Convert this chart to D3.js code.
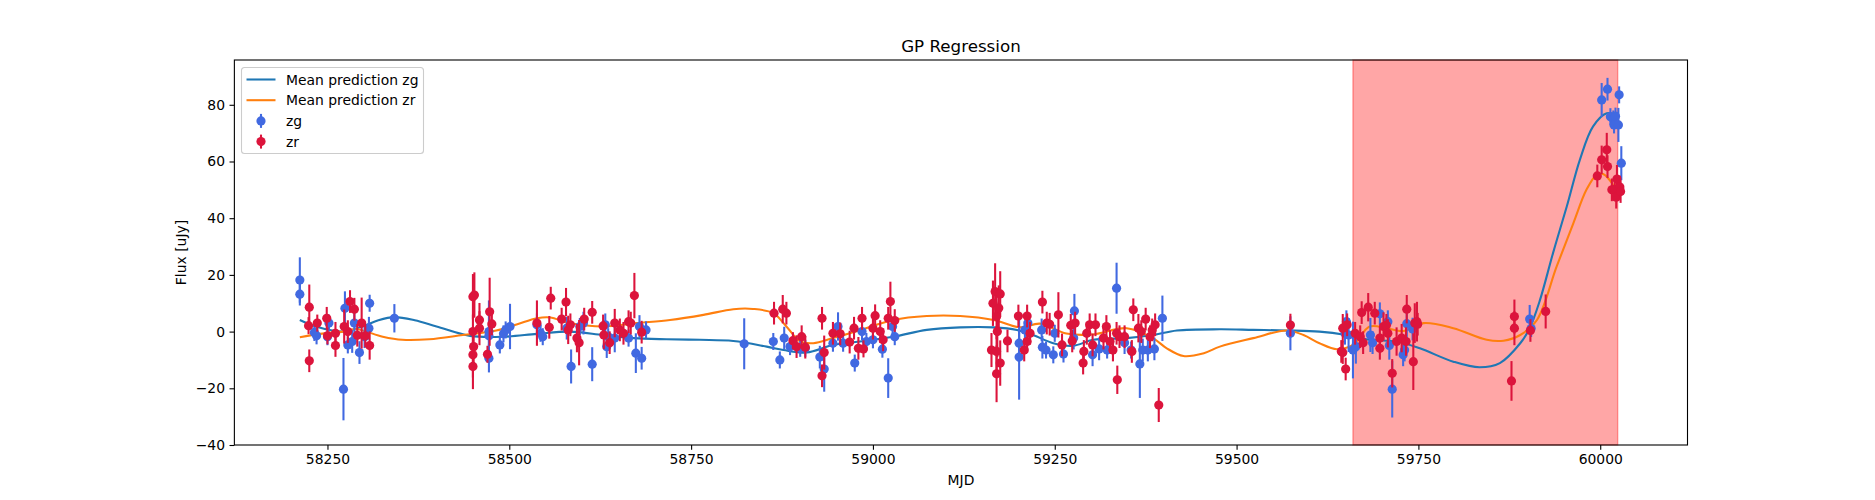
<!DOCTYPE html>
<html>
<head>
<meta charset="utf-8">
<script src="https://d3js.org/d3.v7.min.js"></script>
<style>
  body { margin: 0; background: #fff; }
  text { font-family: "DejaVu Sans", sans-serif; fill: #000; }
</style>
</head>
<body>
<script>
// observations: [mjd, flux, error]
const zgPoints = [
  [58212,18.2,8],[58212,13.2,4],[58232,-0.3,3],[58235,-1.5,3],[58250,-1.8,3],[58252,3,3],
  [58272,-20.3,11],[58274,8.2,6],[58278,-4.7,3],[58284,-3.5,4],[58287,3,4],[58294,-7.4,4],
  [58301,-1.8,4],[58307,1.2,4],[58308,10,3],[58342,4.7,5],[58472,0,11],[58472,-1.5,4],
  [58472,-9.4,5],[58487,-4.7,3],[58492,-0.8,3],[58495,0.6,3],[58501,1.8,8],[58538,2.4,4],
  [58543,-0.6,3],[58546,-1.8,3],[58579,1.2,4],[58585,-12.3,6],[58597,1.8,3],[58602,3,4],
  [58614,-11.5,6],[58632,2.4,4],[58634,-5.3,4],[58636,-1.8,3],[58645,-2.3,5],[58664,-2.3,3],
  [58674,-7.6,7],[58679,1.8,4],[58682,-9.4,4],[58688,0.6,3],[58823,-4.3,9],[58863,-3.5,3],
  [58872,-10,3],[58878,-2.3,4],[58886,-5.3,3],[58900,-5.9,3],[58907,-5.9,3],[58927,-9,4],
  [58933,-13.2,8],[58945,-4.1,3],[58952,1.8,5],[58959,-4.1,3],[58975,-11.1,3],[58985,0,3],
  [58991,-3.5,3],[59000,-2.9,3],[59013,-6.2,3],[59021,-16.4,7],[59027,1.8,3],[59030,-1.8,3],
  [59201,-9,15],[59201,-4.1,5],[59209,0.6,3],[59213,3,3],[59232,0.6,4],[59233,-5.5,4],
  [59238,-6.5,3],[59248,-8.2,3],[59250,-0.6,3],[59262,-7.9,3],[59277,7.3,6],[59276,-2.3,4],
  [59302,-8.2,4],[59311,-6.1,4],[59322,-6.5,3],[59335,15.3,9],[59346,-3.9,4],[59355,-6.5,3],
  [59367,-11.4,12],[59371,-6.5,4],[59378,-6.5,4],[59387,-6.1,4],[59398,4.7,8],[59574,-0.6,6],
  [59649,-0.6,4],[59651,3.5,4],[59654,-1.2,6],[59660,-6.5,10],[59664,-5.3,6],[59684,-1.2,6],
  [59687,-3.9,4],[59697,6.3,4],[59708,3.5,4],[59710,-4.9,5],[59714,-20.3,10],[59729,-8.2,4],
  [59731,-6.5,4],[59734,2.8,6],[59742,0.9,4],[59903,4.4,5],[59905,1.1,3],[60002,81.7,6],
  [60010,85.5,4],[60026,83.5,3],[60014,75.8,3],[60018,75,3],[60021,76,3],[60019,72.9,3],
  [60025,72.9,6],[60029,59.4,6]
];

const zrPoints = [
  [58224,2.1,3],[58225,8.6,8],[58225,-10.3,4],[58236,3,3],[58249,4.7,4],[58250,-1.5,3],
  [58261,-0.6,4],[58261,-4.9,4],[58273,1.8,6],[58278,0,4],[58281,10.6,4],[58287,7.9,4],
  [58291,-1.3,4],[58297,3,9],[58302,-1.5,4],[58308,-4.9,5],[58450,12.3,8],[58452,12.9,8],
  [58450,0,6],[58451,-5.3,6],[58450,-8.2,8],[58450,-12.3,8],[58459,4.1,6],[58459,1.2,6],
  [58470,-8,3],[58473,7,12],[58476,2.7,4],[58538,3,8],[58555,1.5,4],[58557,11.8,4],
  [58572,4.4,4],[58578,10.4,5],[58581,0.6,5],[58584,2.4,4],[58593,-2.3,5],[58596,-3.9,8],
  [58603,4.4,4],[58614,6.8,4],[58629,2,4],[58630,-1.2,5],[58638,-3.9,4],[58645,3,5],
  [58652,0.6,4],[58657,-0.6,4],[58664,3.5,4],[58667,3,4],[58672,12.7,8],[58682,-0.2,4],
  [58864,6.5,4],[58876,7.9,5],[58881,6.5,4],[58890,-3.2,3],[58895,-5.3,4],[58902,-1.8,4],
  [58907,-5.5,4],[58930,4.7,4],[58933,-7.4,6],[58930,-15.6,4],[58945,-0.6,4],[58955,-0.8,4],
  [58968,-3.7,4],[58974,1.2,4],[58980,-5.9,4],[58985,4.7,4],[58987,-6.1,3],[59000,1.2,4],
  [59003,5.6,4],[59010,0,4],[59014,-2.9,4],[59021,4.7,4],[59024,10.6,7],[59030,3.9,4],
  [59163,-6.5,6],[59165,10,8],[59168,14.1,10],[59170,5.3,8],[59171,0,9],[59170,-7,9],
  [59170,-14.9,10],[59175,13.3,8],[59175,-11.1,8],[59173,8.3,8],[59185,-3.3,4],[59200,5.5,4],
  [59212,5.5,4],[59208,-6.5,4],[59212,-3.5,4],[59216,-0.6,4],[59233,10.4,4],[59239,3,4],
  [59243,2.6,4],[59255,5.9,8],[59260,-4.7,4],[59272,2.2,4],[59274,-3.3,4],[59278,3,4],
  [59289,-11.1,4],[59290,-7,4],[59294,-0.6,4],[59298,2.4,4],[59302,-4.7,4],[59306,2.4,4],
  [59317,-2.3,4],[59321,1.8,4],[59326,-3.5,4],[59330,-6.5,4],[59335,-0.6,4],[59336,-17,5],
  [59339,-1.8,4],[59346,-1.8,4],[59356,-7,4],[59358,7.7,4],[59365,1.2,5],[59369,0,4],
  [59375,4.4,4],[59381,-1.8,4],[59384,0.6,4],[59388,2.4,4],[59393,-25.9,6],[59574,2.3,4],
  [59644,-7,4],[59646,-7.4,4],[59646,1.2,5],[59650,-13.2,4],[59652,2.4,4],[59663,-0.6,4],
  [59670,-1.8,4],[59672,6.7,4],[59674,-3.9,4],[59681,8.6,5],[59690,6.5,4],[59697,-5.9,4],
  [59697,-2.3,4],[59702,1.8,5],[59706,2.2,4],[59708,-0.6,5],[59714,-14.7,5],[59720,-3.5,5],
  [59727,-2.3,5],[59733,-3.5,5],[59734,7.9,5],[59743,-10.6,10],[59745,3,7],[59748,3.5,7],
  [59749,2.6,4],[59878,-17.4,7],[59882,5.3,6],[59882,1.2,6],[59904,0.4,4],[59925,7.1,6],
  [59996,54.9,4],[60002,60.6,5],[60009,64.1,6],[60010,58.2,4],[60016,50,4],[60020,50.2,4],
  [60022,47.4,4],[60023,53.8,5],[60027,51,4],[60028,49.4,4]
];

// GP mean predictions: [mjd, flux]
const zgMean = [
  [58212,4.1],[58234,1.8],[58271,0],[58298,1.8],[58320,4],[58342,5.1],[58370,4],[58400,1.8],
  [58446,-1.5],[58492,-1.8],[58538,-0.8],[58583,0],[58629,-1.2],[58671,-2.3],[58716,-2.7],
  [58762,-2.9],[58808,-3.3],[58854,-5.3],[58877,-6.5],[58909,-7.4],[58945,-4.7],[58982,-3.5],
  [59028,-1.8],[59074,0.6],[59120,1.5],[59166,1.5],[59198,0.6],[59220,-1.2],[59248,-4.1],
  [59275,-5],[59303,-2.9],[59349,-2.3],[59385,-1.2],[59418,0.4],[59477,0.8],[59523,0.6],
  [59569,0.4],[59614,0],[59651,-1.2],[59683,-2.9],[59720,-3.5],[59752,-5.9],[59798,-10.6],
  [59834,-12.6],[59862,-11.1],[59890,-4.1],[59903,1.2],[59917,11],[59935,27.6],[59954,44.1],
  [59972,60.6],[59990,72.3],[60009,77],[60022,76.4]
];

const zrMean = [
  [58212,-2],[58240,-0.8],[58271,0],[58290,0.8],[58326,-1.8],[58353,-2.9],[58390,-2.7],
  [58436,-1.2],[58482,0.4],[58510,2.5],[58538,4.7],[58556,5],[58583,3],[58629,1.8],
  [58675,3],[58721,4.1],[58767,5.9],[58808,7.9],[58835,8],[58863,6.5],[58881,1.8],
  [58900,-3.5],[58918,-4.1],[58945,-2.3],[58982,0.5],[59028,4.1],[59074,5.5],[59120,5.5],
  [59166,4.1],[59202,1.5],[59230,2.8],[59266,-0.7],[59303,-1],[59349,1.2],[59385,-2.3],
  [59404,-5.9],[59427,-8.6],[59455,-7.6],[59477,-5.3],[59523,-2.3],[59569,0.4],[59592,-1.2],
  [59614,-4.1],[59638,-6.2],[59660,-4.7],[59683,1.8],[59706,1.2],[59729,0.2],[59757,3],
  [59798,1.2],[59844,-2.9],[59867,-3.2],[59890,-1.2],[59913,4.1],[59940,22.9],[59963,38.2],
  [59981,50],[59995,55.3],[60004,55.6],[60018,51.7]
];

const shadedSpan = [59660, 60024];
const xTicks = [58250, 58500, 58750, 59000, 59250, 59500, 59750, 60000];
const yTicks = [-40, -20, 0, 20, 40, 60, 80];

const width = 1875, height = 500;
const m = { left: 234.375, right: 1687.5, top: 60, bottom: 445 };

const svg = d3.select("body").append("svg")
  .attr("width", width).attr("height", height);

const x = d3.scaleLinear().domain([58122, 60120]).range([m.left, m.right]);
const y = d3.scaleLinear().domain([-40, 95.8]).range([m.bottom, m.top]);

const plot = svg.append("g");

// highlighted window
plot.append("rect")
  .attr("x", x(shadedSpan[0]))
  .attr("y", m.top)
  .attr("width", x(shadedSpan[1]) - x(shadedSpan[0]))
  .attr("height", m.bottom - m.top)
  .attr("fill", "red").attr("fill-opacity", 0.35)
  .attr("stroke", "red").attr("stroke-opacity", 0.35).attr("stroke-width", 1.4);

const line = d3.line().x(d => x(d[0])).y(d => y(d[1])).curve(d3.curveCatmullRom);

plot.append("path").datum(zgMean).attr("d", line)
  .attr("fill", "none").attr("stroke", "#1f77b4").attr("stroke-width", 2.08);
plot.append("path").datum(zrMean).attr("d", line)
  .attr("fill", "none").attr("stroke", "#ff7f0e").attr("stroke-width", 2.08);

function drawErrorbars(pts, color) {
  const g = plot.append("g");
  g.selectAll("line").data(pts).join("line")
    .attr("x1", d => x(d[0])).attr("x2", d => x(d[0]))
    .attr("y1", d => y(d[1] - d[2])).attr("y2", d => y(d[1] + d[2]))
    .attr("stroke", color).attr("stroke-width", 2.08);
  g.selectAll("circle").data(pts).join("circle")
    .attr("cx", d => x(d[0])).attr("cy", d => y(d[1]))
    .attr("r", 4.6).attr("fill", color);
}
drawErrorbars(zgPoints, "#4169e1");
drawErrorbars(zrPoints, "#dc143c");

// axes frame
svg.append("rect")
  .attr("x", m.left).attr("y", m.top)
  .attr("width", m.right - m.left).attr("height", m.bottom - m.top)
  .attr("fill", "none").attr("stroke", "#000").attr("stroke-width", 1.1);

const xAxis = svg.append("g").attr("transform", `translate(0,${m.bottom})`)
  .call(d3.axisBottom(x).tickValues(xTicks).tickFormat(d3.format("d")).tickSize(4.86).tickPadding(4.5));
const yAxis = svg.append("g").attr("transform", `translate(${m.left},0)`)
  .call(d3.axisLeft(y).tickValues(yTicks).tickFormat(d => d < 0 ? "\u2212" + Math.abs(d) : d).tickSize(4.86).tickPadding(4.5));
[xAxis, yAxis].forEach(a => {
  a.select(".domain").remove();
  a.selectAll("line").attr("stroke", "#000").attr("stroke-width", 1.1);
  a.selectAll("text").style("font-size", "13.9px").style("font-family", "DejaVu Sans").attr("fill", "#000");
});

svg.append("text").attr("x", (m.left + m.right) / 2).attr("y", 52)
  .attr("text-anchor", "middle").style("font-size", "16.7px").text("GP Regression");
svg.append("text").attr("x", (m.left + m.right) / 2).attr("y", 485)
  .attr("text-anchor", "middle").style("font-size", "13.9px").text("MJD");
svg.append("text")
  .attr("transform", `translate(186,${(m.top + m.bottom) / 2}) rotate(-90)`)
  .attr("text-anchor", "middle").style("font-size", "13.9px").text("Flux [uJy]");

// legend
const leg = svg.append("g").attr("transform", "translate(241.5,67.5)");
leg.append("rect").attr("width", 182).attr("height", 86).attr("rx", 3)
  .attr("fill", "#fff").attr("fill-opacity", 0.8)
  .attr("stroke", "#cccccc").attr("stroke-width", 1.1);
const legItems = [
  { label: "Mean prediction zg", color: "#1f77b4", type: "line" },
  { label: "Mean prediction zr", color: "#ff7f0e", type: "line" },
  { label: "zg", color: "#4169e1", type: "point" },
  { label: "zr", color: "#dc143c", type: "point" }
];
legItems.forEach((it, i) => {
  const cy = 12 + i * 20.7;
  if (it.type === "line") {
    leg.append("line").attr("x1", 5).attr("x2", 34).attr("y1", cy).attr("y2", cy)
      .attr("stroke", it.color).attr("stroke-width", 2.08);
  } else {
    leg.append("line").attr("x1", 19.5).attr("x2", 19.5).attr("y1", cy - 7).attr("y2", cy + 7)
      .attr("stroke", it.color).attr("stroke-width", 2.08);
    leg.append("circle").attr("cx", 19.5).attr("cy", cy).attr("r", 4.6).attr("fill", it.color);
  }
  leg.append("text").attr("x", 44.5).attr("y", cy + 5).style("font-size", "13.9px").text(it.label);
});
</script>
</body>
</html>
